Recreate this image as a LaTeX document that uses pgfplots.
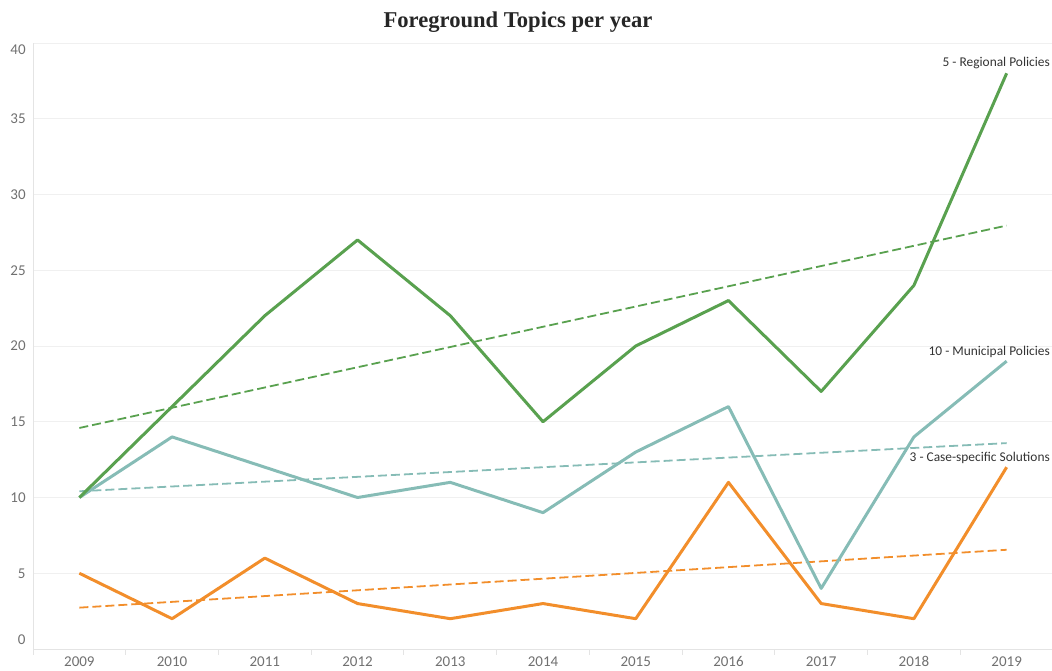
\documentclass[border=0pt]{standalone}
\usepackage{pgfplots}
\pgfplotsset{compat=1.18}
\usepackage{fontspec}
\setmainfont{Carlito}
\newfontfamily\titlefont{Liberation Serif}
\definecolor{cgreen}{HTML}{59A14F}
\definecolor{cteal}{HTML}{86BCB6}
\definecolor{corange}{HTML}{F28E2B}
\definecolor{tickgray}{HTML}{707070}
\definecolor{labgray}{HTML}{333333}
\definecolor{gridgray}{HTML}{F0F0F0}
\definecolor{axgray}{HTML}{E4E4E4}
\begin{document}
\begin{tikzpicture}
\begin{axis}[
  name=ax,
  scale only axis,
  width=510pt, height=303pt,
  xmin=2008.5, xmax=2019.5, ymin=0, ymax=40,
  clip=false,
  axis x line*=bottom, axis y line*=left,
  axis line style={axgray, line width=0.5pt},
  xtick={2009,2010,2011,2012,2013,2014,2015,2016,2017,2018,2019},
  xticklabels={2009,2010,2011,2012,2013,2014,2015,2016,2017,2018,2019},
  ytick={0,5,10,15,20,25,30,35,40},
  yticklabels={{},5,10,15,20,25,30,35,{}},
  major tick length=0pt,
  extra x ticks={2008.5,2009.5,2010.5,2011.5,2012.5,2013.5,2014.5,2015.5,2016.5,2017.5,2018.5,2019.5},
  extra x tick labels={},
  extra x tick style={major tick length=3pt, tick align=outside, tick style={axgray, line width=0.5pt}, grid=none},
  ymajorgrids,
  major grid style={gridgray, line width=0.5pt},
  xticklabel style={anchor=base, inner sep=0pt, yshift=-8.75pt, text=tickgray, font=\fontsize{7.5}{9}\selectfont},
  yticklabel style={anchor=east, inner sep=0pt, xshift=-3.5pt, text=tickgray, font=\fontsize{7.5}{9}\selectfont},
  title={Foreground Topics per year},
  title style={at={(0.4755,1)}, anchor=base, yshift=2pt, inner sep=0pt, text=black!85, font=\titlefont\bfseries\fontsize{11.3}{13}\selectfont},
  every axis plot/.append style={line join=round},
]
% trend lines
\addplot[cgreen, line width=0.9pt, dash pattern=on 4.5pt off 2pt] coordinates {(2009,14.59) (2019,27.95)};
\addplot[cteal, line width=0.9pt, dash pattern=on 4.5pt off 2pt] coordinates {(2009,10.41) (2019,13.59)};
\addplot[corange, line width=0.9pt, dash pattern=on 4.5pt off 2pt] coordinates {(2009,2.73) (2019,6.55)};
% series
\addplot[cteal, line width=1.5pt] coordinates {
(2009,10) (2010,14) (2011,12) (2012,10) (2013,11) (2014,9) (2015,13) (2016,16) (2017,4) (2018,14) (2019,19)};
\addplot[corange, line width=1.5pt] coordinates {
(2009,5) (2010,2) (2011,6) (2012,3) (2013,2) (2014,3) (2015,2) (2016,11) (2017,3) (2018,2) (2019,12)};
\addplot[cgreen, line width=1.5pt] coordinates {
(2009,10) (2010,16) (2011,22) (2012,27) (2013,22) (2014,15) (2015,20) (2016,23) (2017,17) (2018,24) (2019,38)};
% y labels at the ends
\node[anchor=east, inner sep=0pt, text=tickgray, font=\fontsize{7.5}{9}\selectfont, xshift=-3.5pt, yshift=4.5pt] at (axis cs:2008.5,0) {0};
\node[anchor=east, inner sep=0pt, text=tickgray, font=\fontsize{7.5}{9}\selectfont, xshift=-3.5pt, yshift=-3.5pt] at (axis cs:2008.5,40) {40};
% series labels
\node[anchor=base east, inner sep=0pt, text=labgray, font=\fontsize{6.7}{8}\selectfont] at (axis cs:2019.47,38.48) {5 - Regional Policies};
\node[anchor=base east, inner sep=0pt, text=labgray, font=\fontsize{6.7}{8}\selectfont] at (axis cs:2019.47,19.4) {10 - Municipal Policies};
\node[anchor=base east, inner sep=0pt, text=labgray, font=\fontsize{6.7}{8}\selectfont] at (axis cs:2019.47,12.4) {3 - Case-specific Solutions};
\end{axis}
\pgfresetboundingbox
\path ([shift={(-16.5pt,-10.5pt)}]ax.south west) rectangle ++(526pt,335pt);
\end{tikzpicture}
\end{document}
